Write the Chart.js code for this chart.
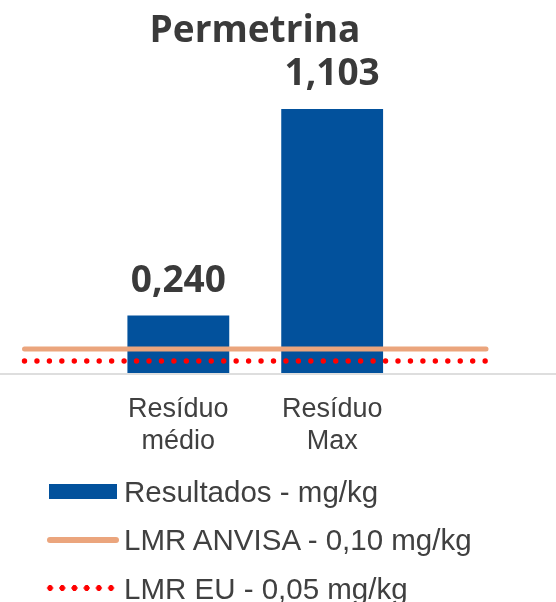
<!DOCTYPE html>
<html><head><meta charset="utf-8">
<script src="https://cdn.jsdelivr.net/npm/chart.js@4"></script>
<style>
html,body{margin:0;padding:0;background:#fff;}
#wrap{position:relative;width:556px;height:602px;overflow:hidden;background:#fff;}
#c{position:absolute;left:0;top:0;}
#title{position:absolute;left:0;width:510px;text-align:center;top:9px;font:700 37px/37px "Open Sans";color:#3a3a3a;}
.leg{position:absolute;left:124px;font:29.5px/29.5px "Liberation Sans",Arial,sans-serif;color:#404040;white-space:nowrap;}
.sym{position:absolute;}
</style></head>
<body>
<div id="wrap">
<canvas id="c" width="556" height="602"></canvas>
<div id="title">Permetrina</div>
<div id="legend"></div>
</div>
<script>
// ---- data ----
const chartTitle = 'Permetrina';
const categories = [['Resíduo', 'médio'], ['Resíduo', 'Max']];
const categoryPositions = [1, 2];
const resultados = [0.240, 1.103];
const lmrAnvisa = [0.10, 0.10];
const lmrEU = [0.05, 0.05];
const lineSpan = [0, 3];          // x-range of the limit lines, in category units
const seriesLabels = ['Resultados - mg/kg', 'LMR ANVISA - 0,10 mg/kg', 'LMR EU - 0,05 mg/kg'];

const BLUE = '#02519c', ORANGE = '#eba57d', RED = '#ff0000';

const labelsPlugin = {
  id: 'customDraw',
  beforeDatasetsDraw(chart) {
    const ctx = chart.ctx;
    const y = chart.scales.y.getPixelForValue(0);
    ctx.save();
    ctx.strokeStyle = '#dedede';
    ctx.lineWidth = 2;
    ctx.beginPath();
    ctx.moveTo(0, y + 1);
    ctx.lineTo(chart.width, y + 1);
    ctx.stroke();
    ctx.restore();
  },
  afterDatasetsDraw(chart) {
    const ctx = chart.ctx;
    const meta = chart.getDatasetMeta(0);
    ctx.save();
    ctx.font = '700 37px "Open Sans"';
    ctx.fillStyle = '#3a3a3a';
    ctx.textAlign = 'center';
    ctx.textBaseline = 'alphabetic';
    meta.data.forEach((bar, i) => {
      const txt = resultados[i].toFixed(3).replace('.', ',');
      ctx.fillText(txt, bar.x, bar.y - 24);
    });
    ctx.restore();
  }
};

const ctx = document.getElementById('c').getContext('2d');
new Chart(ctx, {
  data: {
    datasets: [
      {
        type: 'bar',
        label: seriesLabels[0],
        data: resultados.map((v, i) => ({x: categoryPositions[i], y: v})),
        backgroundColor: BLUE,
        borderWidth: 0,
        categoryPercentage: 1,
        barPercentage: 0.662,
        order: 3
      },
      {
        type: 'line',
        label: seriesLabels[1],
        data: lineSpan.map((x, i) => ({x: x, y: lmrAnvisa[i]})),
        borderColor: ORANGE,
        borderWidth: 5,
        borderCapStyle: 'round',
        pointRadius: 0,
        clip: false,
        order: 1
      },
      {
        type: 'line',
        label: seriesLabels[2],
        data: lineSpan.map((x, i) => ({x: x, y: lmrEU[i]})),
        borderColor: RED,
        borderWidth: 5.4,
        borderCapStyle: 'round',
        borderDash: [0, 12.45],
        pointRadius: 0,
        clip: false,
        order: 0
      }
    ]
  },
  options: {
    responsive: false,
    animation: false,
    devicePixelRatio: 1,
    layout: {padding: {left: 24.5, right: 70, top: 38, bottom: 149}},
    plugins: {legend: {display: false}, tooltip: {enabled: false}, title: {display: false}},
    scales: {
      x: {
        type: 'linear',
        offset: false,
        min: lineSpan[0],
        max: lineSpan[1],
        grid: {display: false, drawTicks: false, offset: false},
        border: {display: false},
        afterBuildTicks: (scale) => { scale.ticks = categoryPositions.map(v => ({value: v})); },
        afterFit: (scale) => { scale.height = 80; scale.paddingLeft = 0; scale.paddingRight = 0; },
        ticks: {
          autoSkip: false,
          maxRotation: 0,
          padding: 20,
          color: '#404040',
          font: {family: '"Liberation Sans", Arial, sans-serif', size: 27, lineHeight: 1.2},
          callback: (v) => {
            const i = categoryPositions.indexOf(v);
            return i >= 0 ? categories[i] : '';
          }
        }
      },
      y: {display: false, min: 0, max: 1.4}
    }
  },
  plugins: [labelsPlugin]
});

// ---- legend (HTML text) ----
const legend = document.getElementById('legend');
const rows = [
  {top: 476.7, sym: `left:49.3px;top:484px;width:68px;height:14.7px;background:${BLUE};`},
  {top: 525.3, sym: `left:46.7px;top:536.7px;width:72.6px;height:6px;border-radius:3px;background:${ORANGE};`},
  {top: 573.8, sym: `left:43.9px;top:585.3px;width:73.2px;height:6px;background:radial-gradient(circle at 6.1px 3px, ${RED} 2.7px, rgba(255,0,0,0) 3.2px);background-size:12.2px 6px;background-repeat:repeat-x;`}
];
rows.forEach((r, i) => {
  const s = document.createElement('div');
  s.className = 'sym';
  s.style.cssText = s.style.cssText + r.sym;
  legend.appendChild(s);
  const t = document.createElement('div');
  t.className = 'leg';
  t.style.top = r.top + 'px';
  t.textContent = seriesLabels[i];
  legend.appendChild(t);
});
document.getElementById('title').textContent = chartTitle;
</script>
</body></html>
